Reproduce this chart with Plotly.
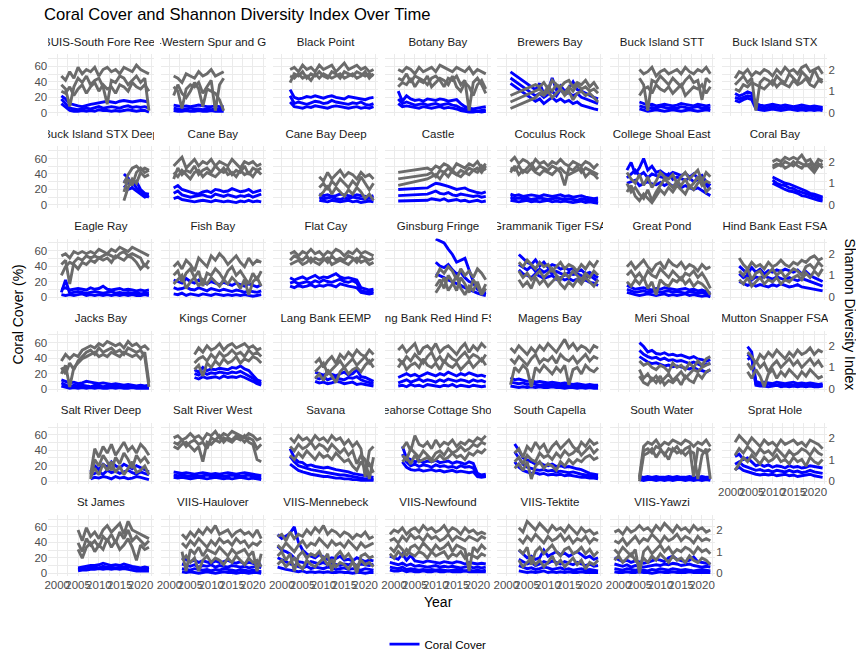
import plotly.graph_objects as go

N = None

sites = ["BUIS-South Fore Reef", "BUIS-Western Spur and Groove", "Black Point", "Botany Bay",
         "Brewers Bay", "Buck Island STT", "Buck Island STX", "Buck Island STX Deep", "Cane Bay",
         "Cane Bay Deep", "Castle", "Coculus Rock", "College Shoal East", "Coral Bay", "Eagle Ray",
         "Fish Bay", "Flat Cay", "Ginsburg Fringe", "Grammanik Tiger FSA", "Great Pond",
         "Hind Bank East FSA", "Jacks Bay", "Kings Corner", "Lang Bank EEMP",
         "Lang Bank Red Hind FSA", "Magens Bay", "Meri Shoal", "Mutton Snapper FSA",
         "Salt River Deep", "Salt River West", "Savana", "Seahorse Cottage Shoal", "South Capella",
         "South Water", "Sprat Hole", "St James", "VIIS-Haulover", "VIIS-Mennebeck",
         "VIIS-Newfound", "VIIS-Tektite", "VIIS-Yawzi"]

start_year = [2001, 2001, 2002, 2001, 2001, 2005, 2001, 2016, 2001, 2009, 2001, 2001, 2002, 2010,
              2001, 2001, 2002, 2010, 2003, 2002, 2002, 2001, 2006, 2008, 2001, 2001, 2005, 2004,
              2008, 2001, 2002, 2002, 2002, 2005, 2001, 2005, 2003, 1999, 1999, 2003, 1999]

# coral cover (%) per transect, one value per year from the site's start year
coral_cover = [
    [[22, 18, 12, 10, 9, 8, 10, 11, 12, 13, 14, 15, 14, 13, 15, 16, 15, 14, 15, 16, 15, 14],
     [18, 12, 6, 5, 4, 5, 6, 5, 7, 8, 6, 7, 8, 7, 6, 8, 9, 7, 8, 7, 8, 6],
     [12, 8, 3, 2, 2, 3, 2, 3, 2, 4, 3, 3, 2, 3, 2, 3, 4, 3, 2, 3, 3, 1]],
    [[10, 9, 8, 9, 8, 9, 10, 9, 8, 8, 9, 8, 8],
     [6, 5, 4, 5, 6, 5, 5, 4, 5, 4, 5, 5, 4],
     [3, 2, 2, 3, 2, 2, 3, 2, 2, 3, 2, 2, 2]],
    [[30, 20, 18, 19, 21, 20, 22, 20, 19, 21, 22, 20, 19, 18, 21, 20, 19, 18, 17, 19, 20],
     [22, 12, 14, 12, 11, 13, 15, 14, 12, 13, 16, 14, 13, 12, 11, 13, 12, 14, 11, 10, 12],
     [14, 8, 7, 6, 8, 7, 9, 8, 7, 6, 8, 9, 8, 7, 6, 7, 8, 6, 7, 6, 8]],
    [[28, 15, 22, 18, 16, 17, 15, 18, 17, 16, 18, 17, 15, 16, 17, 12, 8, 6, 5, 6, 7, 8],
     [18, 12, 14, 12, 10, 11, 12, 10, 11, 12, 10, 11, 12, 10, 9, 6, 4, 3, 3, 2, 3, 4],
     [12, 8, 9, 8, 7, 6, 8, 7, 6, 7, 8, 6, 7, 6, 5, 3, 2, 1, 1, 2, 1, 2]],
    [[53, N, N, N, N, N, 30, 38, 25, 28, 45, 30, 35, 28, 32, 40, 30, 28, 25, 22, 20, 18],
     [45, N, N, N, N, N, 22, 25, 20, 24, 28, 22, 30, 24, 26, 22, 25, 20, 18, 16, 15, 12],
     [38, N, N, N, N, N, 15, 18, 12, 16, 20, 15, 18, 14, 16, 12, 14, 10, 8, 6, 5, 4]],
    [[14, 12, 10, 11, 9, 10, 11, 10, 9, 10, 12, 11, 10, 9, 11, 10, 9, 10],
     [9, 7, 6, 7, 6, 8, 7, 6, 7, 6, 8, 7, 6, 7, 8, 6, 7, 6],
     [5, 3, 2, 3, 4, 3, 2, 3, 4, 3, 2, 3, 4, 3, 2, 3, 4, 3]],
    [[25, 22, 24, 27, 25, 12, 10, 9, 10, 11, 10, 9, 10, 9, 8, 9, 10, 9, 8, 9, 8, 7],
     [20, 18, 20, 22, 21, 8, 7, 6, 7, 8, 7, 6, 7, 8, 7, 6, 7, 6, 7, 6, 5, 6],
     [16, 14, 17, 19, 17, 5, 4, 3, 4, 5, 4, 3, 4, 5, 4, 3, 4, 3, 4, 3, 4, 3]],
    [[40, 35, 25, 30, 20, 15, 14],
     [32, 28, 30, 22, 18, 12, 10],
     [25, 20, 22, 18, 14, 10, 12]],
    [[22, 25, 20, 18, 16, 15, 14, 17, 18, 16, 20, 19, 17, 18, 21, 19, 17, 18, 20, 16, 18, 19],
     [15, 18, 13, 12, 10, 11, 12, 13, 11, 10, 14, 12, 11, 13, 12, 10, 12, 11, 13, 10, 12, 14],
     [8, 10, 7, 6, 5, 4, 5, 6, 5, 4, 6, 5, 4, 5, 4, 3, 5, 4, 6, 4, 5, 4]],
    [[14, 12, 13, 11, 12, 14, 13, 12, 11, 13, 12, 11, 10, 12],
     [10, 8, 9, 10, 8, 7, 9, 8, 10, 9, 8, 7, 9, 8],
     [6, 5, 4, 6, 5, 4, 5, 6, 4, 5, 3, 4, 5, 4]],
    [[20, N, N, N, N, N, N, 22, 25, 28, 27, 26, 24, 22, 20, 21, 22, 19, 17, 16, 15, 17],
     [12, N, N, N, N, N, N, 14, 16, 18, 15, 14, 16, 13, 12, 14, 13, 12, 11, 12, 10, 11],
     [5, N, N, N, N, N, N, 6, 8, 7, 6, 8, 5, 6, 7, 5, 6, 4, 5, 6, 4, 5]],
    [[14, 12, 13, 11, 12, 13, 12, 11, 13, 12, 11, 12, 13, 11, 12, 10, 11, 12, 10, 9, 8, 9],
     [10, 8, 9, 8, 9, 7, 8, 9, 8, 7, 8, 9, 8, 7, 8, 7, 6, 8, 7, 6, 5, 6],
     [6, 5, 4, 5, 6, 4, 5, 4, 5, 6, 4, 5, 4, 5, 4, 3, 4, 5, 3, 4, 3, 2]],
    [[45, 55, 40, 48, 60, 45, 50, 42, 44, 40, 38, 42, 40, 38, 41, 36, 40, 35, 38, 30, 25],
     [35, 40, 45, 38, 42, 35, 40, 38, 36, 35, 40, 33, 36, 34, 32, 35, 30, 33, 28, 26, 20],
     [28, 30, 32, 25, 28, 30, 27, 26, 29, 25, 28, 24, 26, 22, 25, 23, 20, 22, 18, 15, 12]],
    [[36, 33, 30, 28, 27, 25, 22, 20, 18, 15, 14, 12, 10],
     [32, 28, 26, 25, 22, 21, 18, 16, 15, 12, 10, 9, 8],
     [28, 25, 22, 20, 18, 17, 15, 12, 11, 9, 7, 6, 5]],
    [[10, 12, 9, 10, 11, 10, 9, 12, 10, 11, 14, 10, 9, 10, 11, 9, 10, 9, 8, 9, 8, 9],
     [6, 22, 5, 6, 7, 6, 5, 6, 7, 6, 5, 6, 7, 5, 6, 5, 6, 5, 6, 4, 5, 5],
     [3, 2, 3, 2, 3, 4, 2, 3, 2, 3, 2, 3, 2, 3, 2, 3, 2, 3, 2, 2, 3, 2]],
    [[22, 20, 18, 24, 20, 18, 22, 19, 17, 20, 18, 16, 19, 17, 15, 18, 16, 14, 17, 15, 13, 16],
     [12, 10, 11, 13, 10, 9, 12, 10, 8, 11, 9, 8, 10, 9, 7, 9, 8, 6, 8, 7, 6, 8],
     [4, 3, 5, 2, 4, 3, 2, 4, 3, 2, 4, 3, 2, 3, 2, 3, 2, 3, 2, 1, 2, 3]],
    [[25, 22, 24, 26, 23, 25, 28, 24, 26, 25, 27, 30, 26, 24, 25, 23, 22, 12, 10, 9, 10],
     [18, 20, 17, 19, 20, 18, 21, 19, 22, 20, 19, 21, 23, 20, 19, 21, 18, 8, 7, 6, 7],
     [14, 12, 15, 13, 14, 16, 13, 15, 14, 16, 15, 13, 17, 15, 14, 13, 12, 6, 5, 4, 5]],
    [[75, 72, 70, 62, 55, 45, 48, 50, 35, 20, 12, 6, 3],
     [45, 40, 38, 42, 35, 30, 32, 25, 20, 18, 10, 8, 5],
     [30, 28, 25, 22, 20, 18, 15, 12, 10, 8, 5, 3, 2]],
    [[55, 50, 45, 42, 48, 40, 45, 38, 42, 40, 36, 38, 35, 37, 33, 35, 30, 32, 28, 25],
     [42, 38, 35, 40, 33, 36, 32, 35, 30, 33, 31, 28, 32, 29, 30, 27, 25, 28, 24, 20],
     [35, 30, 28, 25, 30, 27, 24, 26, 28, 23, 25, 22, 24, 21, 23, 20, 22, 19, 18, 15]],
    [[15, 12, 10, 11, 12, 10, 9, 11, 10, 12, 11, 10, 9, 10, 11, 9, 10, 8, 9, 7, 5],
     [10, 8, 6, 7, 8, 6, 7, 8, 6, 7, 8, 6, 7, 6, 5, 7, 6, 5, 6, 4, 2],
     [6, 4, 3, 2, 3, 4, 3, 2, 3, 4, 2, 3, 2, 3, 4, 2, 3, 2, 1, 2, 0]],
    [[40, 35, 30, 38, 32, 36, 30, 34, 32, 35, 33, 36, 34, 32, 35, 30, 33, 28, 25, 22, 20],
     [30, 25, 28, 22, 26, 24, 27, 25, 23, 26, 24, 22, 25, 23, 21, 24, 22, 20, 18, 16, 14],
     [20, 18, 15, 17, 14, 16, 15, 13, 16, 14, 17, 15, 13, 14, 16, 13, 12, 11, 10, 9, 8]],
    [[12, 10, 8, 9, 7, 8, 10, 9, 8, 7, 8, 7, 6, 7, 6, 5, 6, 5, 4, 5, 4, 5],
     [8, 6, 3, 5, 4, 5, 4, 3, 5, 4, 3, 4, 3, 4, 3, 2, 3, 2, 3, 2, 3, 2],
     [4, 2, 1, 2, 1, 2, 1, 2, 1, 2, 1, 1, 2, 1, 2, 1, 1, 2, 1, 1, 1, 1]],
    [[25, 22, 28, 24, 26, 25, 27, 26, 25, 28, 27, 30, 26, 24, 18, 12, 10],
     [20, 18, 22, 19, 21, 20, 22, 21, 20, 22, 21, 23, 20, 18, 14, 9, 7],
     [15, 13, 16, 14, 15, 16, 14, 17, 15, 16, 15, 17, 15, 13, 10, 7, 5]],
    [[22, 20, 18, 21, 19, 17, 20, 22, 18, 20, 25, 16, 15, 12, 10],
     [15, 13, 16, 12, 14, 15, 13, 12, 15, 14, 16, 12, 10, 8, 7],
     [10, 8, 9, 7, 8, 10, 9, 7, 8, 9, 6, 7, 6, 5, 4]],
    [[15, 18, 20, 17, 19, 16, 18, 21, 19, 17, 20, 18, 22, 19, 17, 20, 18, 21, 19, 17, 18, 16],
     [8, 10, 12, 9, 11, 13, 10, 12, 11, 9, 12, 10, 13, 11, 10, 12, 11, 9, 12, 10, 11, 9],
     [4, 5, 3, 6, 4, 5, 3, 6, 5, 4, 3, 5, 4, 6, 3, 5, 4, 3, 5, 4, 3, 4]],
    [[15, 12, 13, 11, 10, 11, 9, 10, 9, 8, 9, 8, 7, 8, 7, 6, 7, 6, 5, 6, 5, 5],
     [9, 8, 7, 8, 6, 7, 6, 5, 6, 5, 6, 5, 4, 5, 4, 5, 4, 3, 4, 3, 4, 3],
     [4, 3, 2, 3, 2, 3, 2, 3, 2, 2, 3, 2, 2, 1, 2, 2, 1, 2, 1, 2, 1, 1]],
    [[60, 55, 48, 50, 46, 45, 47, 44, 45, 43, 44, 42, 40, 42, 39, 38, 36, 38],
     [50, 45, 42, 40, 41, 38, 40, 37, 38, 36, 37, 35, 33, 35, 32, 30, 32, 33],
     [42, 38, 35, 33, 34, 32, 30, 31, 29, 30, 28, 27, 26, 28, 25, 24, 22, 25]],
    [[55, 48, 10, 8, 9, 8, 7, 9, 8, 7, 8, 9, 7, 8, 7, 8, 7, 6, 7],
     [45, 40, 7, 6, 5, 7, 6, 5, 6, 5, 6, 5, 6, 5, 6, 5, 5, 4, 5],
     [38, 42, 5, 4, 4, 3, 4, 5, 3, 4, 3, 4, 3, 4, 3, 4, 3, 3, 4]],
    [[12, 20, 15, 22, 18, 25, 20, 17, 22, 19, 16, 20, 18, 15, 12],
     [8, 10, 12, 9, 14, 11, 13, 10, 12, 14, 11, 9, 12, 10, 8],
     [3, 5, 4, 6, 5, 3, 6, 4, 5, 3, 4, 6, 5, 3, 2]],
    [[12, 11, 10, 11, 10, 9, 10, 11, 10, 9, 10, 9, 10, 11, 10, 9, 10, 11, 10, 9, 8, 7],
     [8, 7, 8, 7, 6, 7, 6, 7, 8, 7, 6, 7, 6, 7, 8, 7, 6, 7, 8, 6, 5, 5],
     [5, 4, 5, 4, 3, 4, 5, 4, 3, 4, 5, 4, 3, 4, 3, 4, 5, 4, 3, 4, 3, 2]],
    [[42, 30, 25, 24, 20, 21, 19, 18, 17, 18, 16, 15, 14, 13, 12, 10, 9, 8, 7, 6, 5],
     [32, 25, 20, 18, 16, 15, 14, 13, 12, 11, 10, 9, 8, 8, 7, 6, 5, 4, 3, 3, 2],
     [22, 18, 14, 12, 10, 9, 8, 7, 6, 6, 5, 4, 4, 3, 3, 2, 2, 1, 1, 1, 1]],
    [[45, 30, 28, 25, 27, 24, 26, 25, 27, 24, 25, 26, 23, 25, 24, 22, 25, 23, 10, 8, 9],
     [35, 25, 20, 22, 19, 21, 20, 18, 21, 19, 20, 18, 19, 17, 20, 18, 19, 17, 8, 6, 7],
     [25, 18, 15, 14, 15, 13, 14, 15, 13, 14, 12, 13, 14, 12, 13, 12, 11, 12, 6, 5, 6]],
    [[48, 40, 30, 28, 25, 22, 24, 21, 20, 22, 19, 20, 18, 19, 17, 16, 15, 12, 10, 9, 8],
     [38, 30, 22, 18, 16, 15, 14, 15, 13, 14, 12, 13, 12, 11, 12, 10, 9, 8, 7, 6, 6],
     [25, 18, 14, 12, 10, 11, 9, 10, 8, 9, 8, 9, 7, 8, 7, 6, 5, 5, 4, 4, 3]],
    [[6, 5, 6, 5, 6, 5, 5, 6, 5, 6, 5, 5, 6, 5, 5, 6, 5, 5],
     [4, 3, 4, 3, 4, 3, 4, 3, 4, 3, 4, 3, 3, 4, 3, 4, 3, 3],
     [2, 1, 2, 2, 1, 2, 1, 2, 1, 2, 2, 1, 2, 1, 2, 1, 2, 1]],
    [[32, 35, 28, 30, 25, 20, 22, 19, 21, 18, 20, 19, 17, 20, 18, 19, 17, 18, 20, 19, 18, 17],
     [22, 25, 20, 18, 16, 14, 15, 13, 14, 12, 14, 13, 12, 14, 12, 13, 11, 12, 14, 12, 11, 10],
     [15, 18, 14, 12, 10, 9, 8, 9, 8, 9, 7, 8, 9, 7, 8, 6, 7, 8, 9, 7, 6, 5]],
    [[7, 8, 9, 10, 10, 11, 13, 11, 10, 11, 10, 12, 10, 9, 8, 7, 8, 7],
     [5, 6, 6, 7, 8, 7, 9, 8, 8, 7, 8, 8, 9, 7, 6, 5, 6, 5],
     [3, 4, 4, 5, 5, 6, 5, 6, 5, 6, 5, 6, 5, 4, 3, 3, 3, 3]],
    [[20, 18, 15, 17, 14, 16, 15, 13, 16, 14, 15, 17, 14, 13, 15, 12, 14, 13, 11, 12],
     [12, 10, 9, 11, 8, 10, 9, 11, 8, 10, 9, 8, 10, 9, 8, 9, 7, 8, 9, 7],
     [6, 5, 4, 6, 5, 4, 5, 3, 5, 4, 6, 5, 4, 3, 5, 4, 3, 4, 3, 2],
     [2, 1, 2, 1, 0, 1, 2, 1, 0, 1, 2, 1, 1, 0, 1, 1, 0, 1, 1, 0]],
    [[50, 45, 48, 52, 60, 40, 30, 25, 22, 20, 24, 21, 18, 20, 19, 22, 17, 18, 16, 20, 18, 15, 17, 16],
     [35, 30, 28, 25, 20, 15, 14, 12, 15, 13, 12, 14, 11, 13, 12, 10, 12, 11, 13, 10, 12, 11, 10, 12],
     [20, 18, 15, 12, 10, 8, 7, 9, 6, 8, 7, 6, 8, 7, 5, 6, 7, 5, 6, 5, 4, 6, 5, 4],
     [8, 6, 5, 4, 3, 2, 3, 1, 2, 1, 2, 1, 2, 1, 1, 2, 1, 1, 0, 1, 1, 0, 1, 1]],
    [[22, 20, 18, 25, 17, 23, 16, 15, 14, 16, 15, 14, 13, 15, 14, 13, 15, 14, 12, 14, 13, 12, 13, 12],
     [14, 12, 11, 13, 10, 12, 9, 10, 9, 8, 9, 10, 8, 9, 8, 9, 8, 7, 8, 9, 7, 8, 7, 8],
     [8, 7, 6, 8, 5, 6, 5, 4, 5, 4, 5, 4, 5, 4, 3, 4, 5, 4, 3, 4, 3, 4, 3, 4],
     [4, 3, 3, 4, 2, 3, 2, 2, 3, 2, 2, 3, 2, 2, 3, 2, 2, 2, 3, 2, 2, 2, 2, 2]],
    [[30, 25, 20, 22, 18, 20, 30, 22, 25, 28, 24, 26, 22, 25, 28, 24, 20, 22, 18, 20],
     [18, 15, 12, 14, 10, 12, 15, 13, 16, 14, 12, 15, 13, 11, 14, 12, 10, 12, 9, 10],
     [10, 8, 6, 7, 5, 6, 8, 7, 5, 6, 7, 5, 6, 4, 5, 6, 4, 5, 4, 3],
     [3, 2, 1, 2, 1, 2, 3, 1, 2, 1, 2, 1, 2, 1, 1, 2, 1, 1, 1, 1]],
    [[20, 18, 15, 17, 14, 16, 15, 13, 14, 16, 18, 17, 15, 20, 22, 18, 16, 15, 17, 21, 15, 14, 13, 12],
     [12, 10, 9, 11, 8, 10, 9, 8, 9, 10, 11, 10, 12, 11, 13, 12, 10, 11, 12, 10, 9, 8, 9, 8],
     [6, 5, 4, 6, 5, 4, 5, 4, 3, 5, 4, 6, 5, 4, 6, 5, 4, 5, 4, 3, 4, 5, 4, 3],
     [2, 1, 1, 2, 1, 1, 2, 1, 1, 0, 1, 2, 1, 1, 2, 1, 1, 1, 2, 1, 1, 1, 1, 1]],
]

# Shannon diversity index per transect, same years as coral_cover
shannon_index = [
    [[1.7, 1.5, 1.9, 1.6, 2.1, 1.8, 2.0, 1.9, 2.1, 1.7, 2.0, 2.1, 1.9, 2.0, 1.8, 2.1, 2.0, 1.9, 2.2, 2.0, 1.9, 1.8],
     [1.3, 1.1, 0.3, 1.2, 1.6, 1.4, 1.7, 1.3, 1.5, 1.6, 1.2, 0.4, 1.5, 1.4, 1.7, 1.6, 1.3, 1.5, 1.7, 1.4, 1.6, 0.1],
     [1.0, 0.9, 1.2, 0.8, 1.1, 1.3, 0.9, 1.2, 1.4, 1.0, 1.3, 1.1, 1.2, 0.9, 1.3, 1.2, 1.0, 1.4, 1.2, 1.1, 1.3, 1.0]],
    [[1.7, 1.6, 1.4, 1.8, 1.7, 1.6, 1.9, 1.7, 1.8, 2.0, 1.7, 1.8, 1.9],
     [1.2, 1.0, 0.2, 1.1, 1.3, 1.2, 1.4, 0.9, 1.2, 1.5, 0.1, 1.3, 1.6],
     [0.8, 1.3, 0.9, 0.7, 1.0, 1.4, 1.1, 0.3, 1.1, 1.0, 0.9, 0.6, 0.1]],
    [[2.0, 2.1, 1.9, 2.2, 2.0, 2.1, 1.9, 2.2, 2.0, 2.1, 2.2, 1.9, 2.1, 2.3, 2.0, 2.1, 2.2, 2.0, 2.1, 1.9, 2.0],
     [1.4, 1.8, 1.7, 1.9, 1.6, 1.8, 1.7, 1.9, 1.7, 1.6, 1.9, 1.8, 1.6, 1.9, 1.8, 1.7, 1.9, 1.8, 1.7, 1.8, 1.7],
     [1.7, 1.6, 1.8, 1.6, 1.7, 1.5, 1.8, 1.6, 1.8, 1.7, 1.6, 1.7, 1.8, 1.6, 1.7, 1.8, 1.6, 1.7, 1.9, 1.6, 1.8]],
    [[2.0, 1.9, 2.1, 2.0, 1.8, 2.1, 1.9, 2.0, 2.1, 1.9, 2.2, 2.1, 2.0, 1.9, 2.1, 2.0, 1.9, 2.1, 1.8, 2.0, 1.9, 1.8],
     [1.6, 1.5, 1.8, 1.4, 1.7, 1.6, 1.5, 1.3, 1.6, 1.7, 1.5, 1.2, 1.6, 1.5, 1.7, 1.3, 1.5, 0.1, 1.4, 1.6, 1.3, 0.9],
     [1.2, 1.4, 1.3, 1.6, 1.2, 1.5, 1.4, 1.7, 1.2, 1.4, 1.6, 1.5, 1.3, 1.7, 1.2, 1.0, 1.4, 1.2, 0.8, 1.3, 1.5, 1.1]],
    [[0.8, N, N, N, N, N, 1.3, 1.2, 1.4, 1.1, 1.5, 1.3, 1.2, 1.4, 1.5, 1.2, 1.4, 1.3, 1.5, 1.2, 1.4, 1.1],
     [0.5, N, N, N, N, N, 1.0, 1.1, 0.9, 1.2, 1.0, 1.3, 1.1, 0.9, 1.2, 1.0, 1.3, 1.1, 1.2, 1.0, 1.1, 0.9],
     [0.2, N, N, N, N, N, 0.7, 0.9, 0.8, 1.0, 0.7, 0.9, 1.1, 0.8, 1.0, 0.6, 0.9, 1.0, 0.8, 0.9, 0.7, 0.5]],
    [[2.0, 1.8, 1.9, 2.1, 1.7, 1.9, 2.0, 1.8, 1.9, 2.0, 1.8, 2.1, 1.9, 1.8, 2.0, 1.9, 2.1, 1.8],
     [1.6, 1.3, 0.1, 1.5, 1.4, 1.7, 1.5, 1.3, 1.6, 1.4, 1.2, 1.5, 1.7, 1.4, 1.5, 0.6, 1.6, 1.4],
     [0.8, 1.1, 1.2, 0.9, 1.3, 1.1, 1.0, 1.2, 0.9, 1.1, 1.3, 0.8, 1.0, 1.2, 1.1, 1.3, 0.9, 1.2]],
    [[1.6, 1.9, 1.8, 2.0, 1.7, 1.9, 1.8, 2.0, 1.9, 1.7, 2.0, 1.8, 2.1, 1.9, 2.0, 1.8, 2.1, 2.2, 1.9, 2.0, 2.1, 1.8],
     [1.3, 1.5, 1.7, 1.4, 1.6, 0.1, 1.4, 1.6, 1.5, 1.3, 1.7, 1.5, 1.4, 1.8, 1.6, 1.4, 1.9, 1.7, 1.5, 2.0, 1.6, 1.5],
     [1.1, 1.0, 1.3, 1.2, 1.4, 1.3, 1.2, 1.1, 1.3, 1.5, 1.2, 1.4, 1.3, 1.2, 1.5, 1.3, 1.4, 1.6, 1.3, 1.2, 1.5, 1.4]],
    [[1.0, 1.4, 1.7, 1.8, 1.6, 1.7, 1.6],
     [0.2, 0.8, 1.2, 1.0, 1.5, 1.3, 1.4],
     [0.6, 1.2, 0.9, 1.5, 1.7, 1.5, 1.6]],
    [[1.8, 2.0, 2.2, 1.7, 1.9, 2.1, 1.8, 2.0, 1.9, 2.1, 1.8, 2.0, 1.9, 1.8, 2.1, 1.9, 1.7, 2.0, 1.9, 2.0, 1.8, 1.9],
     [1.2, 1.7, 1.4, 1.6, 1.5, 1.8, 1.4, 1.6, 1.7, 1.5, 1.8, 1.6, 1.5, 1.7, 1.4, 1.6, 1.5, 1.8, 1.4, 1.7, 1.6, 1.7],
     [1.5, 1.3, 1.6, 1.4, 1.2, 1.5, 1.6, 1.3, 1.5, 1.4, 1.3, 1.5, 1.7, 1.4, 1.5, 1.3, 1.6, 1.4, 1.5, 1.3, 1.6, 1.4]],
    [[1.3, 1.1, 1.5, 1.2, 1.4, 1.6, 1.3, 1.5, 1.4, 1.2, 1.5, 1.3, 1.4, 1.2],
     [0.8, 1.0, 0.7, 1.1, 0.9, 1.2, 1.0, 0.8, 1.1, 0.9, 1.3, 1.0, 0.7, 1.0],
     [0.4, 0.6, 0.9, 0.5, 0.8, 0.6, 0.4, 0.7, 0.5, 0.8, 0.6, 0.3, 0.5, 0.2]],
    [[1.5, N, N, N, N, N, N, 1.7, 1.6, 1.8, 1.7, 1.9, 1.8, 1.6, 1.9, 1.8, 1.7, 1.9, 1.8, 2.0, 1.7, 1.9],
     [1.2, N, N, N, N, N, N, 1.4, 1.5, 1.3, 1.6, 1.5, 1.7, 1.5, 1.4, 1.6, 1.5, 1.7, 1.6, 1.5, 1.8, 1.6],
     [0.9, N, N, N, N, N, N, 1.2, 1.3, 1.4, 1.2, 1.5, 1.3, 1.6, 1.4, 1.3, 1.5, 1.4, 1.6, 1.7, 1.5, 1.8]],
    [[2.0, 2.2, 1.9, 2.1, 2.0, 1.8, 2.1, 1.9, 2.0, 1.8, 2.0, 1.9, 2.1, 1.9, 1.8, 2.0, 1.9, 1.8, 2.0, 1.9, 1.7, 1.9],
     [1.7, 1.6, 1.8, 1.5, 1.7, 1.9, 1.6, 1.8, 1.7, 1.6, 1.8, 1.7, 1.5, 0.9, 1.7, 1.6, 1.8, 1.5, 1.7, 1.6, 1.5, 1.4],
     [1.5, 1.8, 1.4, 1.6, 1.5, 1.7, 1.5, 1.4, 1.6, 1.5, 1.4, 1.6, 1.7, 1.5, 1.4, 1.5, 1.6, 1.7, 1.3, 1.5, 1.4, 1.2]],
    [[1.5, 1.2, 1.0, 1.4, 0.9, 1.3, 0.8, 1.1, 1.5, 1.3, 1.2, 1.4, 1.0, 1.3, 1.5, 1.2, 1.4, 1.6, 1.1, 1.5, 1.3],
     [1.0, 0.6, 0.8, 0.5, 0.3, 0.7, 0.2, 0.6, 0.9, 1.2, 1.0, 0.8, 1.1, 0.9, 1.2, 0.8, 1.0, 1.3, 0.9, 1.1, 1.0],
     [0.6, 0.9, 0.4, 0.2, 0.5, 0.3, 0.1, 0.4, 0.7, 0.5, 0.8, 0.6, 0.9, 0.7, 0.5, 0.9, 0.7, 1.0, 1.2, 0.6, 0.8]],
    [[2.0, 2.1, 2.0, 2.2, 2.1, 2.2, 2.1, 2.3, 2.0, 2.1, 1.8, 2.1, 2.0],
     [1.8, 1.9, 1.8, 2.0, 1.9, 1.8, 2.0, 1.9, 1.8, 1.9, 1.6, 1.9, 1.7],
     [1.7, 1.8, 1.9, 1.7, 1.8, 2.0, 1.8, 1.7, 1.9, 1.7, 1.5, 1.8, 1.9]],
    [[1.9, 2.0, 1.8, 2.1, 2.0, 2.1, 2.0, 2.1, 2.0, 2.2, 2.1, 2.0, 2.2, 2.1, 2.3, 2.2, 2.1, 2.3, 2.2, 2.1, 2.0, 1.9],
     [1.5, 1.7, 0.6, 1.6, 1.8, 1.7, 1.9, 1.8, 1.9, 1.8, 1.9, 2.0, 1.9, 1.8, 2.0, 2.1, 1.9, 2.0, 1.9, 1.8, 1.4, 1.7],
     [1.0, 1.4, 1.6, 1.5, 1.3, 1.6, 1.5, 1.7, 1.6, 1.8, 1.7, 1.8, 1.6, 1.9, 1.8, 1.7, 1.9, 1.8, 1.6, 1.3, 1.5, 1.3]],
    [[1.4, 1.6, 1.3, 1.7, 1.5, 1.2, 1.8, 1.6, 1.4, 1.9, 1.7, 2.0, 1.8, 1.5, 1.7, 1.9, 1.6, 1.4, 1.8, 1.5, 1.7, 1.6],
     [1.0, 1.2, 0.7, 1.1, 1.3, 0.9, 1.2, 0.5, 1.1, 1.0, 1.3, 1.1, 0.8, 1.2, 1.4, 1.0, 1.2, 0.9, 0.6, 1.1, 0.8, 1.2],
     [0.6, 0.8, 1.0, 0.4, 0.7, 0.9, 0.5, 0.8, 0.6, 0.9, 0.7, 0.5, 0.8, 0.6, 0.9, 0.7, 0.4, 0.8, 0.1, 0.7, 0.9, 0.5]],
    [[2.0, 2.1, 1.9, 2.1, 2.0, 2.2, 2.0, 2.1, 1.9, 2.1, 2.0, 2.2, 2.1, 1.9, 2.1, 2.0, 2.2, 2.0, 2.1, 2.0, 1.9],
     [1.7, 1.9, 1.8, 1.7, 1.9, 1.6, 1.8, 1.7, 1.8, 1.6, 1.9, 1.7, 1.8, 1.7, 1.9, 1.8, 1.6, 1.9, 1.8, 1.7, 1.8],
     [1.5, 1.6, 1.7, 1.5, 1.6, 1.8, 1.6, 1.5, 1.7, 1.8, 1.5, 1.6, 1.7, 1.6, 1.5, 1.7, 1.8, 1.6, 1.7, 1.5, 1.6]],
    [[0.9, 1.3, 1.1, 1.4, 1.2, 0.8, 1.3, 1.0, 1.2, 0.9, 1.3, 1.1, 0.8],
     [0.5, 0.8, 0.4, 1.0, 0.7, 0.3, 0.9, 0.6, 0.2, 0.8, 0.5, 0.1, 0.4],
     [0.2, 0.5, 0.9, 0.3, 0.6, 1.0, 0.4, 0.1, 0.5, 0.3, 0.7, 0.2, 0.6]],
    [[1.6, 1.4, 1.7, 1.5, 1.3, 1.6, 1.4, 1.5, 1.2, 1.4, 1.6, 1.3, 1.5, 1.4, 1.2, 1.5, 1.3, 1.6, 1.4, 1.7],
     [1.2, 0.9, 1.1, 0.8, 1.0, 1.2, 0.9, 1.1, 1.3, 1.0, 0.8, 1.1, 0.9, 1.2, 1.0, 0.8, 1.1, 0.9, 1.2, 1.0],
     [0.8, 0.5, 0.7, 0.4, 0.9, 0.6, 0.8, 0.5, 0.7, 0.9, 0.6, 0.4, 0.7, 0.5, 0.8, 0.6, 0.9, 0.7, 0.5, 0.8]],
    [[1.4, 1.6, 1.3, 1.5, 1.7, 1.4, 1.2, 1.5, 1.6, 1.3, 1.7, 1.5, 1.4, 1.6, 1.3, 1.5, 1.4, 1.2, 1.5, 1.3, 1.4],
     [1.0, 1.2, 0.9, 1.1, 0.8, 1.2, 1.0, 0.9, 1.3, 1.1, 0.9, 1.2, 1.0, 0.8, 1.1, 1.0, 1.2, 0.9, 1.1, 0.8, 0.4],
     [0.7, 0.5, 0.8, 0.6, 0.9, 0.4, 0.7, 0.1, 0.8, 0.6, 0.5, 0.8, 0.7, 0.9, 0.6, 0.8, 0.5, 0.7, 0.6, 0.4, 0.1]],
    [[1.8, 1.5, 1.3, 1.6, 1.4, 1.5, 1.3, 1.6, 1.4, 1.5, 1.7, 1.5, 1.4, 1.6, 1.5, 1.7, 1.6, 1.8, 1.9, 1.7, 1.8],
     [1.2, 1.0, 1.3, 0.8, 1.1, 1.2, 0.9, 1.1, 1.3, 1.0, 1.2, 0.9, 1.1, 1.3, 1.2, 1.0, 1.4, 1.5, 1.3, 1.6, 1.4],
     [0.8, 0.6, 0.9, 0.5, 0.7, 0.9, 0.6, 0.8, 0.7, 0.9, 0.6, 0.8, 0.7, 0.9, 1.0, 0.8, 1.1, 0.9, 1.2, 1.0, 1.3]],
    [[1.3, 1.6, 1.4, 1.6, 1.5, 1.8, 1.9, 2.0, 1.9, 2.1, 2.0, 2.2, 2.1, 2.0, 2.1, 1.9, 2.2, 2.0, 2.1, 1.9, 2.0, 1.8],
     [1.0, 0.7, 1.2, 0.9, 1.3, 1.5, 1.7, 1.8, 1.6, 1.9, 1.7, 1.8, 1.9, 1.7, 1.8, 1.6, 1.9, 1.8, 1.7, 1.8, 1.5, 0.1],
     [0.7, 1.1, 0.1, 1.0, 1.2, 1.4, 1.5, 1.6, 1.7, 1.5, 1.6, 1.5, 1.7, 1.6, 1.5, 1.7, 1.6, 1.5, 1.6, 1.4, 1.7, 0.3]],
    [[1.6, 1.9, 1.7, 2.0, 1.8, 1.9, 2.1, 1.8, 2.0, 2.1, 1.9, 2.0, 2.1, 1.9, 2.0, 1.8, 1.9],
     [1.2, 1.4, 1.5, 1.3, 1.6, 1.4, 1.7, 1.5, 1.6, 1.8, 1.6, 1.7, 1.5, 1.8, 1.6, 1.7, 1.5],
     [0.9, 1.1, 0.6, 1.2, 1.0, 1.3, 1.1, 1.4, 1.2, 1.3, 1.5, 1.2, 1.4, 1.3, 1.5, 1.4, 1.2]],
    [[1.2, 1.4, 1.0, 1.3, 1.5, 1.2, 1.6, 1.4, 1.7, 1.5, 1.8, 1.6, 1.5, 1.8, 1.6],
     [0.8, 1.0, 1.2, 0.7, 0.9, 1.1, 1.3, 1.0, 1.2, 1.4, 1.1, 1.3, 1.5, 1.2, 1.4],
     [0.5, 0.7, 0.4, 0.9, 0.6, 0.3, 0.8, 1.0, 0.7, 0.9, 1.0, 0.8, 1.1, 1.3, 1.0]],
    [[1.8, 2.0, 1.7, 1.9, 2.1, 1.6, 1.9, 2.0, 1.8, 2.1, 1.7, 1.9, 2.0, 1.8, 1.6, 1.9, 2.1, 1.7, 2.0, 1.8, 2.1, 1.9],
     [1.4, 1.2, 1.5, 1.3, 1.6, 1.4, 1.2, 1.5, 1.7, 1.3, 1.5, 1.2, 1.6, 1.4, 1.3, 1.5, 1.7, 1.4, 1.6, 1.5, 1.3, 1.6],
     [1.0, 1.3, 0.9, 1.1, 1.2, 1.0, 1.4, 1.1, 1.0, 1.2, 0.9, 1.3, 1.1, 1.0, 1.2, 0.9, 1.1, 1.3, 1.0, 1.2, 1.4, 1.1]],
    [[1.9, 1.7, 2.0, 1.8, 1.6, 1.9, 1.7, 2.0, 1.8, 2.1, 1.9, 1.7, 2.0, 2.3, 1.9, 2.1, 1.8, 2.0, 1.9, 1.7, 2.0, 1.9],
     [1.4, 1.2, 1.5, 1.3, 1.1, 1.4, 1.6, 1.2, 1.4, 1.3, 1.5, 1.2, 1.6, 1.4, 1.3, 1.5, 1.2, 1.4, 1.6, 1.3, 1.5, 1.4],
     [0.2, 1.0, 0.8, 1.1, 0.9, 0.1, 1.0, 0.8, 1.1, 0.9, 0.7, 1.0, 0.8, 1.1, 0.2, 0.9, 1.0, 0.7, 1.1, 0.9, 0.8, 1.0]],
    [[1.3, 1.1, 1.2, 1.0, 0.9, 1.1, 1.0, 0.8, 1.2, 1.0, 1.1, 0.9, 1.2, 1.0, 1.3, 1.1, 1.4, 1.5],
     [0.9, 0.5, 0.7, 0.4, 0.6, 0.3, 0.5, 0.7, 0.4, 0.6, 0.8, 0.5, 0.7, 0.9, 0.8, 1.0, 1.1, 1.2],
     [0.6, 0.3, 0.2, 0.5, 0.3, 0.6, 0.2, 0.4, 0.3, 0.5, 0.2, 0.6, 0.4, 0.3, 0.7, 0.5, 0.8, 0.9]],
    [[1.7, 1.5, 1.2, 1.6, 1.4, 1.7, 1.5, 1.8, 1.6, 1.4, 1.7, 1.5, 1.8, 1.6, 1.7, 1.9, 1.6, 1.8, 1.7],
     [1.2, 0.9, 1.3, 1.0, 1.2, 0.8, 1.1, 1.3, 1.0, 1.2, 1.4, 1.1, 1.3, 1.0, 1.2, 1.4, 1.1, 1.3, 1.0],
     [0.8, 0.5, 0.9, 0.6, 0.1, 0.7, 0.9, 0.5, 0.8, 0.6, 0.9, 0.7, 0.5, 0.8, 0.6, 0.9, 0.7, 0.5, 0.6]],
    [[0.3, 1.5, 1.1, 1.6, 1.3, 1.7, 1.2, 1.5, 1.8, 1.4, 1.6, 1.3, 1.7, 1.5, 1.2],
     [0.1, 1.0, 0.7, 1.2, 0.9, 0.5, 1.1, 0.8, 1.3, 1.0, 0.6, 1.2, 0.9, 1.1, 0.8],
     [0.2, 0.6, 0.3, 0.8, 0.5, 0.9, 0.4, 0.7, 0.3, 0.6, 0.9, 0.4, 0.5, 0.7, 0.3]],
    [[2.0, 2.1, 1.9, 2.0, 2.2, 2.0, 2.1, 1.9, 2.2, 2.1, 2.3, 2.0, 2.2, 2.1, 2.3, 2.2, 2.1, 2.0, 2.2, 2.1, 1.9, 2.0],
     [1.8, 1.7, 1.9, 1.6, 1.8, 1.9, 1.7, 1.8, 1.5, 2.0, 1.9, 2.1, 1.8, 2.0, 1.9, 2.1, 2.0, 1.8, 2.0, 1.9, 1.5, 1.7],
     [1.6, 1.5, 1.7, 1.8, 1.6, 1.4, 1.6, 0.9, 1.8, 1.7, 1.9, 1.8, 2.0, 1.9, 1.8, 2.0, 1.9, 2.1, 1.8, 1.7, 1.0, 0.9]],
    [[2.0, 1.8, 2.1, 1.9, 2.0, 1.8, 2.1, 1.9, 2.0, 1.8, 2.1, 1.9, 2.0, 1.7, 1.9, 1.6, 1.8, 1.5, 0.2, 1.4, 1.6],
     [1.6, 1.4, 1.7, 1.5, 1.6, 1.8, 1.5, 1.7, 1.6, 1.4, 1.7, 1.5, 1.3, 1.5, 1.2, 1.4, 0.8, 1.2, 1.0, 0.1, 1.1],
     [1.2, 1.0, 1.3, 1.1, 1.4, 1.2, 1.0, 1.3, 1.1, 1.2, 1.0, 1.3, 1.1, 0.9, 1.0, 0.7, 0.5, 0.9, 0.6, 0.8, 0.4]],
    [[1.5, 1.8, 1.4, 2.1, 1.7, 1.6, 1.8, 1.5, 1.9, 1.6, 1.8, 1.7, 1.9, 1.6, 1.8, 1.7, 1.9, 1.8, 2.0, 1.9, 2.1],
     [1.2, 1.0, 1.5, 1.3, 1.1, 1.4, 1.2, 1.0, 1.3, 1.4, 1.2, 1.5, 1.3, 1.4, 1.6, 1.4, 1.5, 1.7, 1.6, 1.8, 1.7],
     [0.9, 1.1, 0.8, 1.2, 0.9, 1.0, 1.1, 0.9, 1.0, 1.2, 1.0, 1.1, 1.3, 1.1, 1.2, 1.0, 1.3, 1.2, 1.4, 1.3, 1.5]],
    [[1.3, 1.5, 1.1, 1.6, 1.4, 1.8, 1.5, 1.7, 1.3, 1.6, 1.8, 1.5, 1.7, 1.9, 1.6, 1.4, 1.8, 1.6, 1.9, 1.7, 1.8],
     [0.9, 1.1, 0.8, 1.2, 1.0, 0.9, 1.3, 1.1, 1.2, 1.0, 1.3, 1.1, 1.4, 1.2, 1.3, 1.5, 1.2, 1.4, 1.6, 1.3, 1.5],
     [0.6, 0.8, 0.5, 0.9, 0.1, 0.7, 0.9, 0.6, 0.8, 0.7, 0.5, 0.9, 0.7, 1.0, 0.8, 1.0, 0.9, 1.1, 1.2, 1.0, 1.1]],
    [[0.2, 1.6, 1.8, 1.7, 1.9, 1.6, 1.8, 1.7, 1.9, 1.8, 1.7, 1.9, 1.8, 1.6, 1.8, 1.7, 1.9, 1.6],
     [0.1, 1.4, 1.5, 1.3, 1.6, 1.5, 1.2, 1.5, 1.4, 1.6, 1.3, 1.5, 1.6, 0.2, 1.5, 1.4, 1.3, 1.5],
     [0.0, 1.2, 1.3, 1.5, 1.1, 1.4, 1.3, 1.0, 1.5, 1.3, 1.4, 1.2, 1.4, 1.3, 0.1, 1.2, 1.5, 0.1]],
    [[1.8, 2.1, 1.9, 1.7, 2.0, 1.8, 1.6, 1.9, 1.7, 1.8, 1.6, 1.9, 1.7, 1.8, 1.9, 1.7, 1.8, 1.6, 1.9, 1.8, 1.7, 1.5],
     [1.2, 1.5, 1.3, 1.6, 1.4, 1.2, 1.5, 1.3, 1.4, 1.2, 1.5, 1.3, 1.1, 1.4, 1.2, 1.3, 1.5, 1.4, 1.2, 1.5, 1.3, 1.2],
     [0.5, 0.8, 1.1, 0.9, 1.2, 1.0, 0.8, 1.1, 0.9, 1.0, 1.2, 0.9, 1.0, 0.8, 1.1, 0.9, 1.0, 0.7, 1.1, 0.9, 0.8, 1.0]],
    [[2.0, 1.5, 2.1, 1.7, 1.9, 1.6, 2.0, 2.2, 1.9, 2.1, 2.3, 1.8, 2.4, 2.0, 1.9, 1.8, 1.7, 1.6],
     [1.4, 1.0, 1.6, 1.3, 1.5, 1.2, 1.7, 1.5, 1.8, 1.4, 1.9, 1.6, 2.0, 1.5, 1.7, 1.5, 1.3, 1.5],
     [1.1, 0.7, 1.2, 1.4, 1.0, 1.3, 1.1, 1.6, 1.2, 1.5, 1.1, 1.3, 1.6, 1.2, 0.6, 1.3, 1.1, 1.2]],
    [[1.8, 1.6, 1.9, 1.7, 2.0, 1.8, 2.1, 1.9, 2.2, 1.8, 1.9, 2.0, 1.7, 1.9, 2.0, 1.8, 1.9, 1.7, 2.0, 1.6],
     [1.4, 1.2, 1.5, 1.3, 1.6, 1.4, 1.2, 1.5, 1.3, 1.6, 1.4, 1.5, 1.3, 1.6, 1.4, 1.5, 1.2, 1.4, 1.3, 1.5],
     [1.0, 0.1, 1.1, 0.9, 1.2, 0.8, 1.1, 1.0, 0.9, 1.2, 1.0, 0.8, 1.1, 0.9, 1.0, 1.1, 0.8, 1.0, 0.1, 0.9],
     [0.6, 0.8, 0.5, 0.7, 0.1, 0.6, 0.8, 0.5, 0.7, 0.6, 0.4, 0.7, 0.5, 0.8, 0.6, 0.4, 0.7, 0.5, 0.6, 0.3]],
    [[1.7, 1.8, 1.5, 1.9, 1.6, 1.8, 1.7, 2.0, 1.8, 2.1, 1.9, 2.2, 1.8, 2.0, 1.9, 1.7, 1.9, 1.8, 1.6, 1.8, 1.7, 1.9, 1.6, 1.7],
     [1.3, 1.1, 1.4, 1.2, 1.0, 1.3, 1.5, 1.2, 1.4, 1.3, 1.6, 1.4, 1.2, 1.5, 1.3, 1.4, 1.2, 1.5, 1.3, 1.1, 1.4, 1.2, 1.3, 1.4],
     [0.8, 1.0, 0.6, 0.9, 0.1, 0.8, 1.0, 0.7, 0.9, 0.8, 1.0, 0.6, 0.9, 0.1, 0.8, 1.0, 0.7, 0.9, 0.6, 0.0, 0.8, 0.9, 0.7, 0.8],
     [0.4, 0.6, 0.3, 0.5, 0.7, 0.4, 0.2, 0.6, 0.4, 0.3, 0.5, 0.7, 0.4, 0.6, 0.3, 0.5, 0.4, 0.2, 0.5, 0.3, 0.6, 0.4, 0.5, 0.3]],
    [[1.8, 2.0, 1.9, 2.1, 1.8, 2.0, 2.1, 1.9, 2.2, 2.0, 2.1, 1.9, 2.0, 2.2, 1.9, 2.1, 2.0, 1.8, 2.1, 1.9, 2.0, 1.8, 1.9, 1.8],
     [1.5, 1.6, 1.4, 1.7, 1.5, 1.8, 1.6, 1.7, 1.5, 1.8, 1.6, 1.7, 1.5, 1.6, 1.8, 1.5, 1.7, 1.6, 1.5, 1.7, 1.6, 1.5, 1.7, 1.6],
     [1.2, 1.0, 1.3, 1.1, 0.8, 1.2, 1.3, 1.1, 1.4, 1.2, 1.0, 1.3, 1.1, 1.2, 1.4, 1.0, 1.3, 1.2, 1.1, 0.1, 1.2, 1.0, 1.3, 1.1],
     [0.9, 0.7, 1.0, 0.8, 1.1, 0.9, 0.8, 1.0, 0.9, 0.7, 1.0, 0.8, 0.9, 1.0, 0.7, 0.9, 0.8, 1.0, 0.7, 0.9, 0.8, 0.7, 0.9, 0.8]],
    [[2.1, 1.9, 2.4, 2.2, 2.0, 2.3, 2.1, 1.9, 2.2, 2.0, 2.1, 1.9, 2.2, 2.0, 1.8, 2.1, 1.9, 2.0, 1.8, 1.9],
     [1.6, 1.4, 1.7, 1.5, 1.8, 1.6, 1.4, 1.7, 1.5, 1.6, 1.8, 1.5, 1.7, 1.4, 1.6, 1.5, 1.7, 1.4, 1.6, 1.5],
     [1.1, 0.9, 1.2, 0.4, 1.0, 1.2, 0.9, 1.1, 1.3, 1.0, 0.8, 1.1, 1.2, 0.9, 1.0, 1.2, 0.9, 1.1, 0.8, 1.0],
     [0.6, 0.3, 0.5, 0.7, 0.4, 0.6, 0.3, 0.5, 0.8, 0.4, 0.6, 0.3, 0.5, 0.7, 0.4, 0.6, 0.2, 0.5, 0.4, 0.6]],
    [[1.9, 2.0, 1.8, 2.1, 1.9, 2.0, 2.2, 2.0, 2.1, 1.9, 2.2, 2.0, 2.3, 2.1, 1.9, 2.2, 2.0, 2.1, 1.9, 2.2, 2.0, 2.1, 1.9, 2.0],
     [1.5, 1.4, 1.6, 1.3, 1.5, 1.7, 1.4, 1.6, 1.5, 1.8, 1.6, 1.4, 1.7, 1.5, 1.6, 1.8, 1.5, 1.7, 1.6, 1.4, 1.7, 1.5, 1.6, 1.5],
     [1.1, 0.9, 1.2, 1.0, 0.8, 1.1, 0.0, 1.0, 1.2, 0.9, 1.1, 1.3, 1.0, 1.2, 0.9, 1.1, 1.0, 1.2, 1.1, 0.9, 1.2, 1.0, 1.1, 0.9],
     [0.6, 0.8, 0.5, 0.7, 0.9, 0.6, 0.4, 0.7, 0.5, 0.8, 0.6, 0.9, 0.7, 0.5, 0.8, 0.6, 0.7, 0.5, 0.8, 0.6, 0.5, 0.7, 0.6, 0.4]],
]

SCALE = 28  # secondary axis transform: coral axis = shannon * SCALE
W, H = 864, 672
OFF = 8  # the page body margin shifts the figure by this many pixels
NCOL = 7
X_RANGE = [1997.85, 2023.15]
Y_RANGE = [-3.6, 75.6]
FONT = "Liberation Sans"
GRID = "#EBEBEB"
TICK = "#4D4D4D"

# panel geometry in (page) pixels
left0, pitch_x, pw = 44.4, 112.8, 106
zero0, pitch_y, px_unit = 113.3, 92.5, 0.777


def px(x):
    return (x - OFF) / W


def py(y):
    return 1 - (y - OFF) / H


fig = go.Figure()
annotations = []
n = len(sites)
for i, site in enumerate(sites):
    row, col = divmod(i, NCOL)
    k = i + 1
    xa, ya = f"x{k}", f"y{k}"
    left = left0 + col * pitch_x
    zero = zero0 + row * pitch_y
    top = zero - Y_RANGE[1] * px_unit
    bottom = zero - Y_RANGE[0] * px_unit

    for j, vals in enumerate(coral_cover[i]):
        yrs = list(range(start_year[i], start_year[i] + len(vals)))
        fig.add_trace(go.Scatter(x=yrs, y=vals, mode="lines", xaxis=xa, yaxis=ya,
                                 line=dict(color="#0000FF", width=2.9), connectgaps=True,
                                 name="Coral Cover", legendgroup="coral",
                                 showlegend=(i == 0 and j == 0), hoverinfo="skip"))
    for vals in shannon_index[i]:
        yrs = list(range(start_year[i], start_year[i] + len(vals)))
        fig.add_trace(go.Scatter(x=yrs, y=[v * SCALE if v is not None else None for v in vals],
                                 mode="lines", xaxis=xa, yaxis=ya, connectgaps=True,
                                 line=dict(color="#6B6B6B", width=2.9),
                                 showlegend=False, hoverinfo="skip"))

    bottom_panel = i + NCOL >= n
    fig.layout[f"xaxis{k}"] = dict(
        domain=[px(left), px(left + pw)], anchor=ya, range=X_RANGE,
        tick0=2000, dtick=5, showticklabels=bottom_panel, ticks="", tickangle=0,
        showgrid=True, gridcolor=GRID, gridwidth=1.1, zeroline=False,
        minor=dict(tick0=2000, dtick=2.5, showgrid=True, gridcolor=GRID, gridwidth=0.6),
        tickfont=dict(family=FONT, size=11.5, color=TICK), fixedrange=True)
    fig.layout[f"yaxis{k}"] = dict(
        domain=[py(bottom), py(top)], anchor=xa, range=Y_RANGE,
        tick0=0, dtick=20, showticklabels=(col == 0), ticks="",
        showgrid=True, gridcolor=GRID, gridwidth=1.1, zeroline=False,
        minor=dict(tick0=0, dtick=10, showgrid=True, gridcolor=GRID, gridwidth=0.6),
        tickfont=dict(family=FONT, size=11.5, color=TICK), fixedrange=True)

    # secondary (Shannon) axis on the last panel of each row
    if col == NCOL - 1 or i == n - 1:
        k2 = 100 + row
        fig.add_trace(go.Scatter(x=[], y=[], xaxis=xa, yaxis=f"y{k2}", showlegend=False))
        fig.layout[f"yaxis{k2}"] = dict(
            overlaying=ya, anchor=xa, side="right",
            range=[Y_RANGE[0] / SCALE, Y_RANGE[1] / SCALE],
            tickvals=[0, 1, 2], showgrid=False, zeroline=False, ticks="",
            tickfont=dict(family=FONT, size=11.5, color=TICK), fixedrange=True)

    annotations.append(dict(
        text=site, x=px(left + pw / 2), y=py(top - 12.5), xref="paper", yref="paper",
        showarrow=False, width=pw, align="center", xanchor="center", yanchor="middle",
        font=dict(family=FONT, size=11.5, color="#1A1A1A")))

axis_title = dict(xref="paper", yref="paper", showarrow=False, xanchor="center",
                  yanchor="middle", font=dict(family=FONT, size=14, color="black"))
annotations += [
    dict(axis_title, text="Coral Cover (%)", x=px(14), y=py(316), textangle=-90),
    dict(axis_title, text="Shannon Diversity Index", x=px(850), y=py(316), textangle=90),
    dict(axis_title, text="Year", x=px(436), y=py(605)),
]

fig.update_layout(
    width=W, height=H,
    margin=dict(l=0, r=0, t=0, b=0),
    paper_bgcolor="white", plot_bgcolor="white",
    title=dict(text="Coral Cover and Shannon Diversity Index Over Time",
               x=px(44), xanchor="left", y=py(14), yanchor="middle",
               font=dict(family=FONT, size=16.6, color="black")),
    annotations=annotations,
    legend=dict(orientation="h", x=px(436), xanchor="center", y=py(647), yanchor="middle",
                font=dict(family=FONT, size=11.5, color="black"), itemwidth=30),
    font=dict(family=FONT),
)

fig.write_html("out.html")
